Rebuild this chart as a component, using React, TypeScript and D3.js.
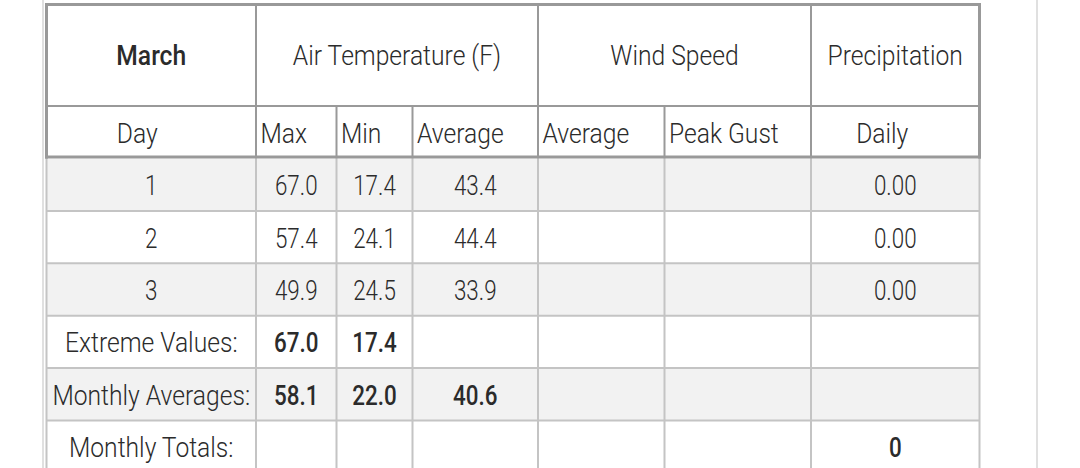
import React from "react";
import * as d3 from "d3";

// ---- data ----
const monthName = "March";
const groupHeaders = ["Air Temperature (F)", "Wind Speed", "Precipitation"];
const subHeaders = ["Day", "Max", "Min", "Average", "Average", "Peak Gust", "Daily"];
const days = ["1", "2", "3"];
const maxTemp = [67.0, 57.4, 49.9];
const minTemp = [17.4, 24.1, 24.5];
const avgTemp = [43.4, 44.4, 33.9];
const windAvg: (number | null)[] = [null, null, null];
const peakGust: (number | null)[] = [null, null, null];
const precipDaily = [0.0, 0.0, 0.0];
const summaryLabels = ["Extreme Values:", "Monthly Averages:", "Monthly Totals:"];
const extremeValues = ["67.0", "17.4", "", "", "", ""];
const monthlyAverages = ["58.1", "22.0", "40.6", "", "", ""];
const monthlyTotals = ["", "", "", "", "", "0"];

// ---- layout ----
const W = 1080;
const H = 468;
const colEdges = [46.5, 256, 336.5, 412.5, 538, 664.5, 811, 979.5];
const groupSpans = [[1, 4], [4, 6], [6, 7]];
const headTop = 4.5;
const head1Bottom = 106;
const head2Bottom = 157;
const bodyTop = 158.6;
const rowH = 52.36;
const FONT = "Roboto, 'DejaVu Sans', sans-serif";
const FS = 28;
const SX = 0.88;
const SX_NUM = 0.8;
const TEXT = "#2b2b2b";
const DARK = "#999999";
const LIGHT = "#c4c4c4";

type Cell = { text: string; bold?: boolean; num?: boolean };

export default function App() {
  const f1 = d3.format(".1f");
  const f2 = d3.format(".2f");
  const bodyRows: Cell[][] = days.map((d, i) => [
    { text: d, num: true },
    { text: f1(maxTemp[i]), num: true },
    { text: f1(minTemp[i]), num: true },
    { text: f1(avgTemp[i]), num: true },
    { text: windAvg[i] == null ? "" : f1(windAvg[i] as number), num: true },
    { text: peakGust[i] == null ? "" : f1(peakGust[i] as number), num: true },
    { text: f2(precipDaily[i]), num: true },
  ]);
  [extremeValues, monthlyAverages, monthlyTotals].forEach((vals, k) => {
    bodyRows.push([
      { text: summaryLabels[k] },
      ...vals.map((v) => ({ text: v, bold: true, num: true })),
    ]);
  });

  const y = d3
    .scaleLinear()
    .domain([0, bodyRows.length])
    .range([bodyTop, bodyTop + rowH * bodyRows.length]);
  const cx = (c: number) => (colEdges[c] + colEdges[c + 1]) / 2;

  const txt = (
    x: number,
    yy: number,
    s: string,
    anchor: "start" | "middle",
    weight: number,
    key: string,
    sx: number = SX
  ) => (
    <text
      key={key}
      transform={`translate(${x},${yy}) scale(${sx},1)`}
      textAnchor={anchor}
      fontFamily={FONT}
      fontSize={FS}
      fontWeight={weight}
      fill={TEXT}
    >
      {s}
    </text>
  );

  const subX = (c: number) => {
    if (c === 0) return { x: cx(0) - 14, a: "middle" as const };
    if (c === 6) return { x: cx(6) - 13, a: "middle" as const };
    return { x: colEdges[c] + 4.5, a: "start" as const };
  };

  return (
    <svg
      width={W}
      height={H}
      style={{ position: "absolute", left: 0, top: 0, background: "#fff" }}
    >
      {/* page container lines */}
      <rect x={42} y={0} width={2} height={H} fill="#e0e0e0" />
      <rect x={1036} y={0} width={2} height={H} fill="#e0e0e0" />

      {/* body backgrounds */}
      {bodyRows.map((_, i) => (
        <rect
          key={"bg" + i}
          x={colEdges[0]}
          y={y(i)}
          width={colEdges[7] - colEdges[0]}
          height={rowH}
          fill={i % 2 === 0 ? "#f2f2f2" : "#ffffff"}
        />
      ))}

      {/* body light grid */}
      {bodyRows.map((_, i) => (
        <line
          key={"bh" + i}
          x1={colEdges[0]}
          x2={colEdges[7]}
          y1={y(i + 1)}
          y2={y(i + 1)}
          stroke={LIGHT}
          strokeWidth={2}
        />
      ))}
      {colEdges.map((e, i) => (
        <line
          key={"bv" + i}
          x1={e}
          x2={e}
          y1={head2Bottom}
          y2={y(bodyRows.length) + 1}
          stroke={LIGHT}
          strokeWidth={2}
        />
      ))}

      {/* header dark grid */}
      <line x1={colEdges[0] - 1.5} x2={colEdges[7] + 1.5} y1={headTop} y2={headTop} stroke={DARK} strokeWidth={3} />
      <line x1={colEdges[0]} x2={colEdges[7]} y1={head1Bottom} y2={head1Bottom} stroke={DARK} strokeWidth={2} />
      <line x1={colEdges[0] - 1.5} x2={colEdges[7] + 1.5} y1={head2Bottom} y2={head2Bottom} stroke={DARK} strokeWidth={3} />
      <line x1={colEdges[0]} x2={colEdges[0]} y1={3} y2={head2Bottom + 1.5} stroke={DARK} strokeWidth={3} />
      <line x1={colEdges[7]} x2={colEdges[7]} y1={3} y2={head2Bottom + 1.5} stroke={DARK} strokeWidth={3} />
      {groupSpans.map(([s], i) => (
        <line key={"g" + i} x1={colEdges[s]} x2={colEdges[s]} y1={headTop} y2={head1Bottom} stroke={DARK} strokeWidth={2} />
      ))}
      {colEdges.slice(1, 7).map((e, i) => (
        <line key={"s" + i} x1={e} x2={e} y1={head1Bottom} y2={head2Bottom} stroke={DARK} strokeWidth={2} />
      ))}

      {/* header texts */}
      {txt(cx(0), (headTop + head1Bottom) / 2 + 10, monthName, "middle", 500, "month")}
      {groupHeaders.map((g, i) =>
        txt(
          (colEdges[groupSpans[i][0]] + colEdges[groupSpans[i][1]]) / 2,
          (headTop + head1Bottom) / 2 + 10,
          g,
          "middle",
          300,
          "gh" + i
        )
      )}
      {subHeaders.map((s, c) => {
        const p = subX(c);
        return txt(p.x, (head1Bottom + head2Bottom) / 2 + 11, s, p.a, 300, "sh" + c);
      })}

      {/* body texts */}
      {bodyRows.map((row, i) =>
        row.map((cell, c) =>
          cell.text
            ? txt(
                cx(c),
                y(i) + rowH / 2 + 10.5,
                cell.text,
                "middle",
                cell.bold ? 500 : 300,
                `t${i}-${c}`,
                cell.num ? SX_NUM : SX
              )
            : null
        )
      )}
    </svg>
  );
}
